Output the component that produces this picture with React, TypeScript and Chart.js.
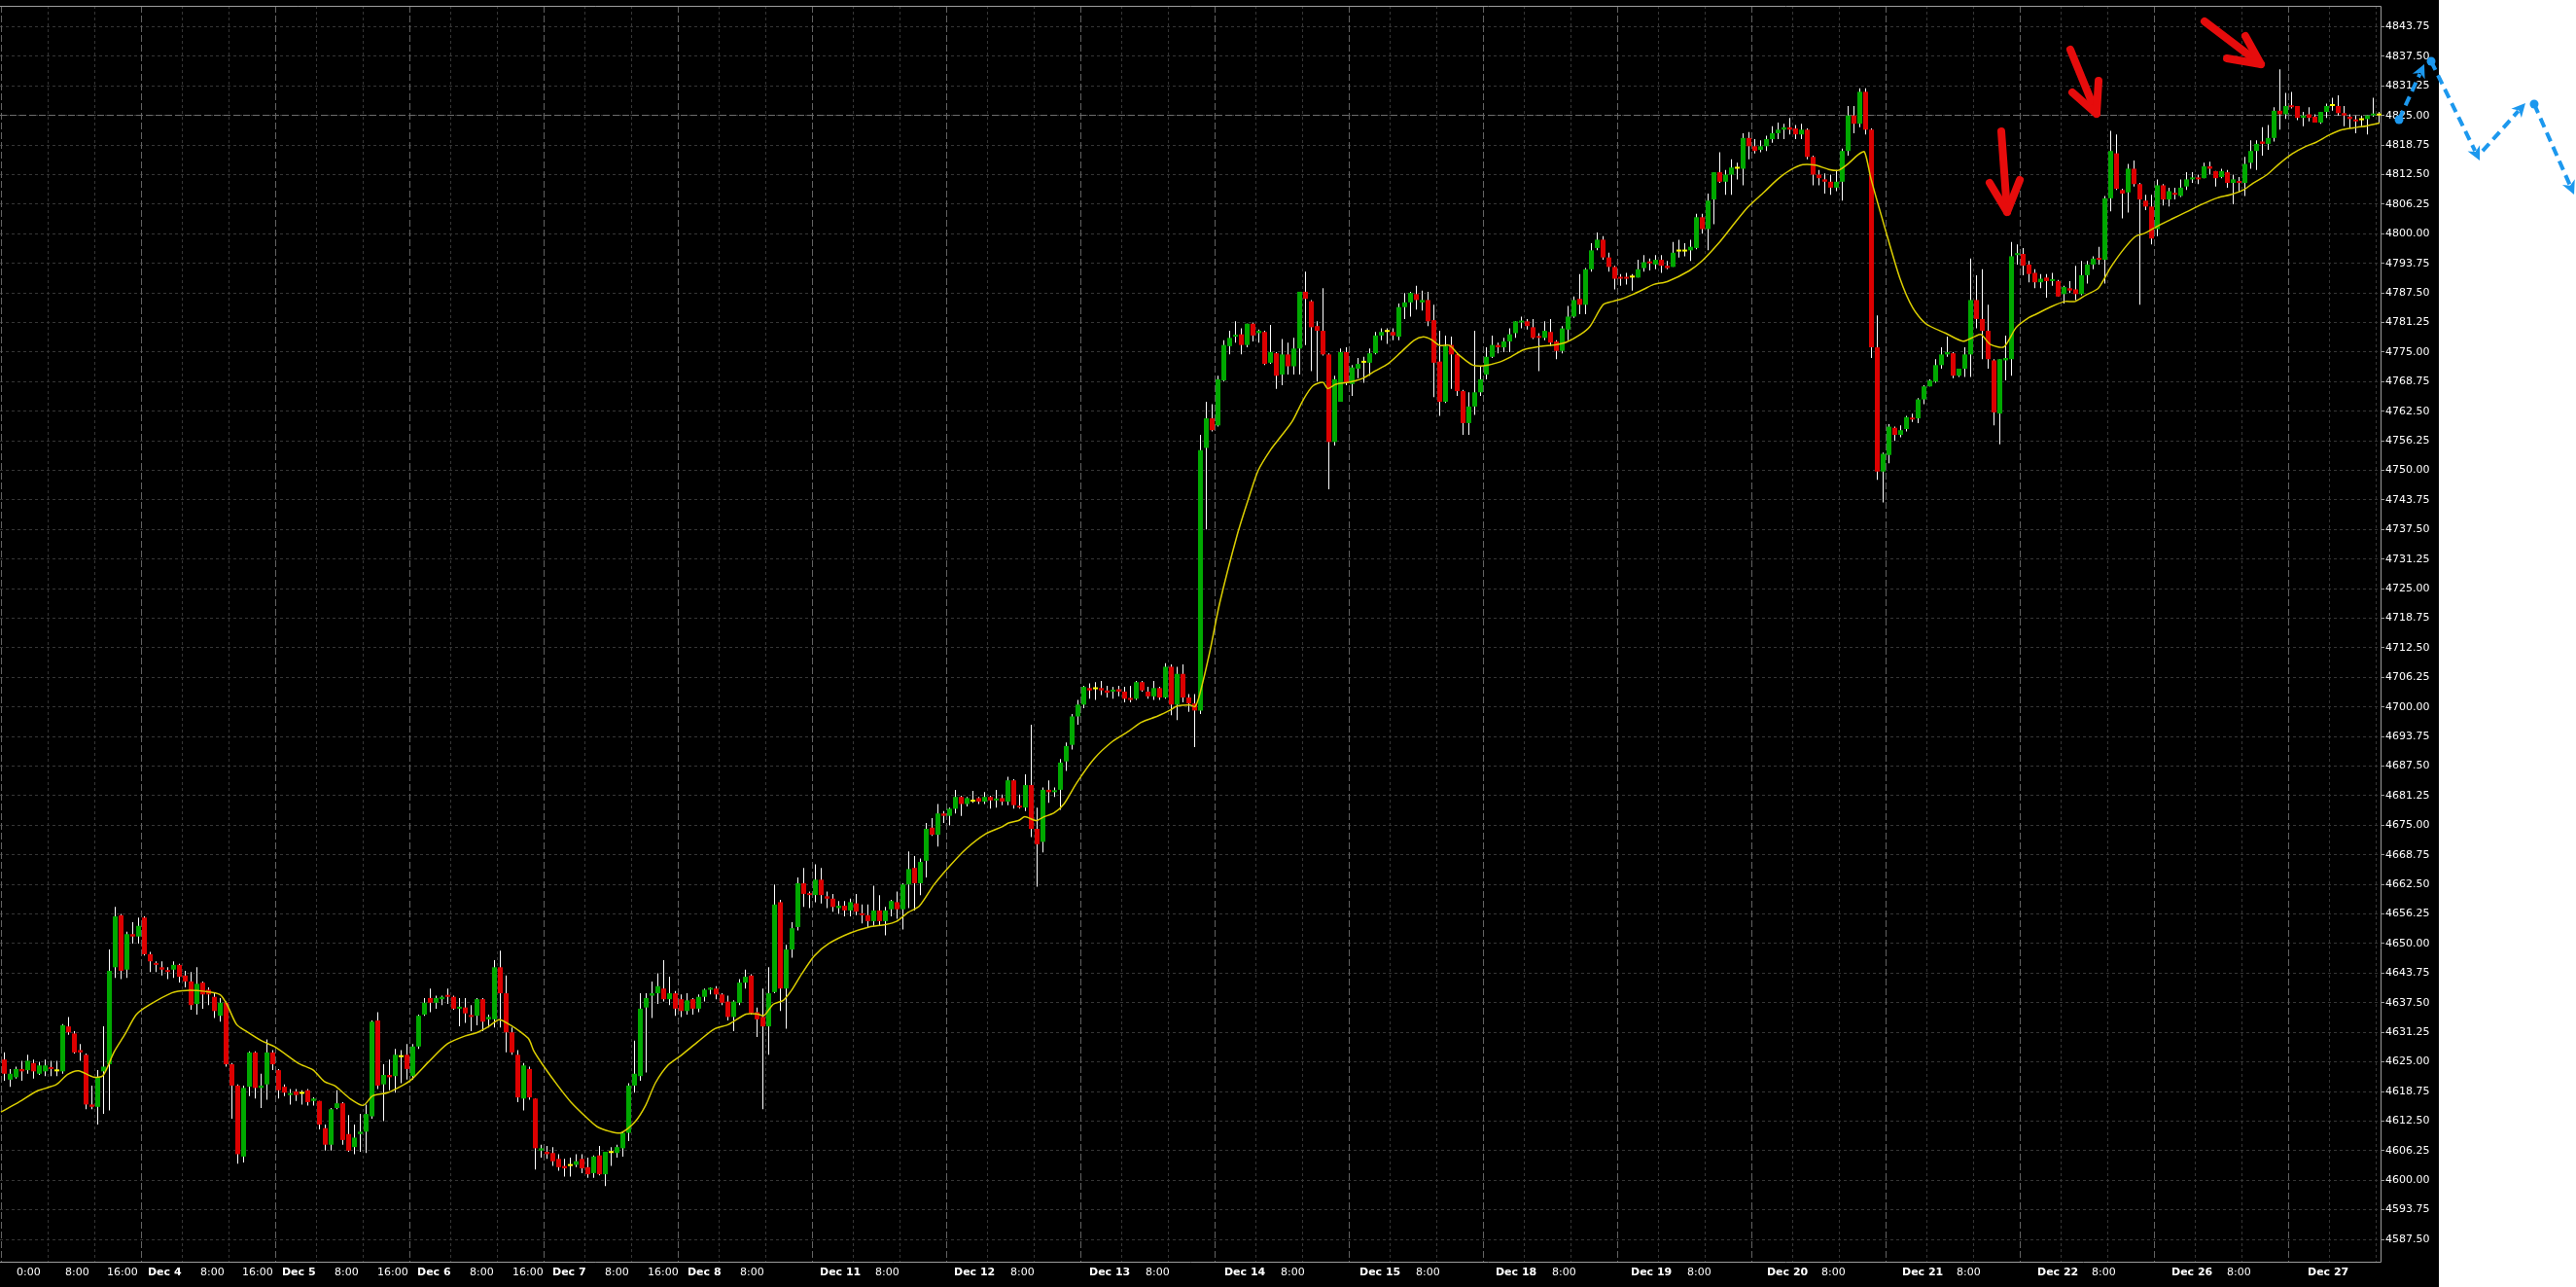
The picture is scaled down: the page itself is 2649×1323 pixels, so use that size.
import React, { useEffect, useRef } from 'react';
import { Chart, registerables } from 'chart.js';

Chart.register(...registerables);

// ---------- data (hourly bars, Dec 1 .. Dec 27) ----------
const opens: number[] = [
  4625.5,4621.25,4621.75,4623.5,4623.25,4624.75,4622.5,4623,4623.75,4623,4623,4632.5,4631,4627.5,4626.5,4616,4615.5,4623,4624.5,4645,4656,4644.5,4652,4651.5,
  4655.5,4647.75,4645.75,4645,4644.25,4644.5,4645.5,4643.25,4642,4637.25,4641.75,4640.25,4638.75,4634.75,4637.5,4624.5,4620,4605,4619.75,4627,4619.5,4620.25,4627,
  4623.25,4619.75,4618,4618.75,4618.25,4619,4616.75,4616.75,4611,4607.5,4615.25,4616.25,4609.75,4607,4609.75,4610.25,4613.5,4633.75,4620.25,4622.25,4622,4626,4626.5,
  4622,4628.25,4635,4638.5,4637.5,4638.25,4639,4638.75,4636.25,4636.5,4634.75,4634.75,4638.25,4634,4634,4645,4639.5,4631.25,4626.5,4617.25,4623.5,4617.25,4606.25,
  4606,4605.75,4604.5,4603,4603,4603.25,4604.5,4602.75,4601.5,4605.25,4601.25,4605.75,4605.75,4606.75,4610,4620,4622,4636.5,4639,4639.5,4640.5,4638.25,4639.5,
  4638.25,4635.75,4638.25,4636.25,4638.75,4640.25,4640.5,4639.25,4637.75,4634.5,4637.5,4641.75,4643.25,4635.5,4634.5,4632.5,4639.75,4658.75,4640.5,4648.75,4653.5,4662.75,4660.5,
  4660.25,4663.5,4660,4659.5,4657.5,4658,4657,4658.5,4656.25,4656,4654.75,4657,4654.75,4657.25,4658.75,4657.25,4662.5,4666,4662.75,4667.5,4674.5,4673,4677.5,
  4677,4678.5,4681,4679.5,4680,4680.75,4680,4681,4680.25,4680.75,4680,4684.5,4679,4678.75,4683.5,4674.25,4671.5,4682.5,4682,4682.5,4688.5,4692,4698,
  4700.5,4704,4703.75,4704,4703.5,4703.25,4703.75,4703.25,4701.75,4701.75,4705.25,4703.25,4702.25,4704,4702,4708.5,4700.5,4707,4702,4700.75,4699.25,4754.75,4761,
  4759.5,4769,4776.25,4778.25,4778.75,4776.5,4781,4779,4779.25,4772.75,4774.75,4770.25,4774.5,4772,4775.75,4787.75,4785.75,4780.5,4779.5,4774.5,4756,4764.5,4775,
  4768.25,4771.5,4772.75,4772.75,4774.75,4778.5,4779.25,4779.25,4778.25,4784.5,4785.5,4787.25,4785.5,4786,4781.75,4773,4764.5,4776.5,4774.5,4766.75,4760,4763.5,4766.5,
  4770.25,4774,4776.5,4776,4777.25,4779,4781.25,4781.5,4780.25,4778.25,4778,4779.25,4777.25,4775.25,4779.75,4782.5,4786.25,4785,4792.5,4797,4798.75,4795,4793,
  4790.75,4790.75,4790.75,4790.75,4792.75,4794,4793.5,4794.5,4793.25,4793,4796.25,4796.25,4796.5,4797,4803.5,4801,4807.25,4813,4811,4812.5,4813.75,4813.75,4820.25,
  4818.5,4817.75,4818.5,4820,4821.25,4822,4822.5,4822.25,4821,4822,4816.25,4812.5,4811.5,4811,4809.75,4811,4817.5,4825,4823.25,4830,4822,4776,4749.75,
  4753.25,4759,4757.5,4758.75,4761,4761,4765,4767.75,4768.75,4772.25,4774.5,4774.75,4770,4771.5,4774.5,4786,4782,4779.5,4773.25,4762,4773.25,4773.5,4795.5,
  4795.75,4793.5,4791.75,4789.75,4790.75,4790,4790,4787.25,4788.5,4788.25,4787.25,4791.25,4793.5,4794.75,4794.5,4807.5,4817,4809.25,4808.75,4813.75,4810.5,4807,4805.75,
  4801,4810.25,4807.25,4808.5,4808,4810,4811.5,4811.75,4811.75,4814.25,4813.25,4812,4813,4810.75,4811,4810.75,4815,4817.5,4819.5,4819,4820.25,4826,4825.25,
  4827,4827,4824.5,4825.25,4824.75,4823.5,4825.75,4827,4827,4825.5,4824.75,4824,4824,4824.25,4825,4825,
];

const highs: number[] = [
  4627,4623.5,4624,4625.25,4626.5,4625.5,4625,4625.5,4625.25,4625.25,4633,4634.5,4631.5,4628.75,4626.75,4620,4623.25,4632.5,4648.75,4657.75,4656.25,4652.5,4654.5,4655.5,
  4655.75,4648.25,4646.25,4646.25,4645,4646.25,4645.75,4644.25,4644,4645,4642,4640.75,4639.5,4638.5,4637.75,4624.75,4620.25,4620,4627.25,4627.25,4622.5,4629.75,4627.5,
  4623.5,4620.25,4619.25,4619.25,4619,4619.25,4617.5,4616.75,4611.75,4615.25,4619,4616.5,4613.75,4611.75,4614,4616,4633.75,4635.5,4624.5,4625.5,4627.75,4627.5,4628.75,
  4628.75,4635,4638.5,4640.5,4639,4639,4640.5,4639,4638.5,4638.5,4637,4638.5,4638.5,4635,4646.5,4648.5,4643.25,4632.25,4627.5,4624.75,4624,4617.25,4607.5,
  4607.25,4607,4605.5,4604.5,4604.75,4605.5,4605.5,4604.75,4605.25,4607.25,4606,4607,4607.5,4610.25,4620.5,4629.5,4639.5,4639.5,4642,4643.75,4646.5,4643,4640,
  4639.25,4639.5,4638.5,4639.25,4640.5,4640.75,4641,4639.5,4639,4638,4642.5,4644.5,4643.5,4636.5,4640.5,4645,4662.5,4659.25,4649.75,4654.5,4664,4666,4661,
  4666.75,4666,4661,4660.5,4659,4659,4659.5,4660.5,4658.25,4658.25,4662.25,4660.25,4657.75,4659.25,4661,4662.75,4669.5,4668.5,4668,4675.5,4676.5,4679.5,4678,
  4678.75,4682.5,4681.25,4681,4682.25,4681,4682,4681.25,4682.5,4681.5,4685.25,4684.75,4681.5,4685.75,4696.25,4678.75,4683,4684.5,4683,4689,4692.5,4698.5,4701.5,
  4704.5,4705,4705.25,4705.5,4704.5,4704.25,4704.5,4704.25,4704.5,4705.5,4705.5,4704.25,4705.5,4704.25,4709.25,4709,4708.5,4709,4702.75,4702.75,4757.5,4764.5,4764,
  4770,4777.5,4779.5,4781.5,4780,4781,4781.25,4779.75,4779.5,4780.75,4775,4777.75,4777,4778,4787.75,4792,4786,4781.5,4788.5,4774.75,4770,4775.75,4776,
  4772.25,4773.75,4774,4775.75,4779.25,4780,4780,4780,4785.25,4787.5,4787.75,4789,4788,4787.75,4785,4779.5,4778.5,4778.25,4774.75,4767,4766.5,4779.5,4772,
  4776,4778.5,4777,4778,4780,4781.5,4782.5,4782,4782,4779,4781.5,4782,4777.5,4780.5,4784.75,4786.75,4791.5,4792.75,4798,4800.25,4799.5,4796,4793.25,
  4791.5,4791.75,4791.5,4794.5,4795.5,4794.75,4795.5,4795.5,4794.25,4798.25,4798.75,4798,4798.75,4804.25,4804.25,4808.5,4813,4817.25,4813.5,4815.75,4815,4821.25,4821.5,
  4820,4819.75,4820.75,4822.75,4823.5,4823.25,4824.5,4823,4823.25,4822.25,4816.5,4813.5,4812.75,4812.5,4813.5,4818,4827,4827,4830.75,4830.75,4822.25,4782.75,4753.75,
  4759.75,4759.25,4759.5,4761.5,4762,4765.25,4768,4769.25,4773.5,4776,4778.25,4775,4771.5,4776,4794.75,4791.25,4792.5,4785,4773.5,4773.5,4778.5,4798.25,4797.75,
  4797,4794.25,4792.5,4791.5,4791.5,4791.75,4790.25,4789,4790,4793.25,4794.25,4794.25,4795.25,4797.25,4808,4821.75,4821,4809.5,4814.75,4815.5,4810.75,4808.25,4808.25,
  4811.5,4810.5,4809.75,4809.75,4811.5,4813,4813,4812.5,4815,4815.25,4813.25,4813.75,4813.5,4812.5,4812,4816.25,4819.75,4819.75,4822.5,4823,4826.75,4834.75,4829.75,
  4830,4827,4825.75,4826.75,4825.25,4825.75,4827.5,4828.75,4829.25,4827,4825.25,4825,4825,4825,4828.75,4825.75,
];

const lows: number[] = [
  4621,4619.75,4621.5,4621,4622.5,4621.5,4622.25,4622,4622,4622,4622.5,4630.75,4626.75,4625.25,4615,4615,4611.75,4614,4614.75,4642.75,4642.5,4642.75,4650,4650,
  4647.5,4644,4644,4643.25,4642.5,4642.75,4641.75,4640.75,4636,4635,4636.25,4637,4634.25,4633.5,4624,4613,4603.5,4603.75,4617.75,4617.25,4615.25,4617,4623.25,
  4617.25,4617.75,4616,4616.75,4616,4615.75,4615.75,4610.75,4606.25,4606.25,4615,4607.5,4606,4605.5,4606,4605.75,4613,4619.25,4612.5,4619,4618.5,4620.5,4621.25,
  4621.25,4627.75,4634.75,4635.5,4636.25,4637,4637.25,4636,4632.5,4633.25,4631.5,4632.75,4631.5,4632.25,4632.25,4632.25,4627,4626.5,4616.5,4614.75,4617,4602.25,4604.75,
  4604.5,4603,4602,4600.75,4600.75,4602.75,4601.5,4600.5,4600.5,4601,4598.75,4603,4604.75,4605,4608.25,4618.5,4621,4622.75,4634.25,4637.25,4637.75,4637,4634.75,
  4634.5,4635,4635,4635.5,4637.75,4639.25,4638.25,4637,4633.75,4631.5,4637,4640.5,4635,4630.25,4615,4626.5,4639.5,4635.75,4632,4647,4652.75,4657.75,4657.5,
  4658.75,4658.5,4657.5,4656.75,4656.25,4655.75,4655.75,4656,4654.25,4653.5,4653.75,4653.75,4651.75,4655.75,4655.25,4653,4657.5,4657,4660.25,4664,4672.75,4670.5,4675.5,
  4675,4677.5,4677,4679,4679.75,4679.5,4679.5,4678.5,4678.75,4679.25,4679.25,4678.5,4678.5,4678,4672.5,4662,4669.25,4679.75,4681,4678.25,4686.5,4691,4696.25,
  4699.75,4701.75,4701.5,4702.5,4702,4701.75,4702.25,4701,4701,4701.5,4703.25,4701.75,4701.5,4701.5,4701.75,4698.25,4697.25,4701,4699,4691.5,4698.5,4737.5,4758.25,
  4759.25,4768.75,4774.5,4777,4774.5,4776,4777.25,4777,4772.25,4772.5,4767.25,4768,4770.25,4770.25,4770.25,4776.5,4771,4768.75,4774.25,4746,4755.25,4764.5,4768,
  4765.75,4769.5,4768.5,4770,4774.5,4777.5,4776.75,4777.5,4777.5,4782,4782.5,4784,4783.75,4780.5,4765.5,4761.5,4764.25,4767.25,4765.75,4757.5,4757.5,4761.75,4765.75,
  4769.25,4773.75,4774.75,4775,4775,4778,4780,4779.75,4777.75,4771,4777.5,4776.25,4773.5,4774.75,4777.5,4782.25,4783,4783,4792,4796.5,4794.5,4792,4788.25,
  4789,4789.25,4788,4790.75,4792,4792.25,4792.5,4791.75,4792.5,4793,4795,4795.25,4794.25,4796.75,4800,4796.5,4802,4810.75,4808.25,4808.25,4811.5,4810.25,4815.75,
  4817,4817.25,4817.5,4819.25,4820,4820,4821,4820,4820,4815.75,4810.25,4810.25,4808.5,4808.25,4809,4807,4816.5,4821.25,4822.5,4821,4773.75,4748,4743.25,
  4751.5,4756.25,4757,4758.25,4760.25,4760,4764,4767.75,4768.5,4771.5,4774,4769.5,4769.75,4769.75,4769.75,4780,4773.5,4771.5,4759.5,4755.5,4769,4770,4793.5,
  4791.25,4789.75,4788.5,4788.5,4786.5,4789,4786.75,4785.25,4787.5,4786,4787,4789.5,4792.5,4793.5,4789.5,4804.75,4809.25,4803.25,4804.5,4810,4785,4805,4797.75,
  4799.5,4806,4805.75,4807.25,4807.75,4809.25,4810.75,4810.5,4811.75,4812.5,4810,4811.75,4809.75,4806.25,4808.75,4808,4813.75,4813.5,4816.5,4817.75,4819.5,4822,4824.25,
  4826.5,4824,4822.75,4823.75,4823.5,4823.25,4824.5,4826,4825,4822.75,4822.25,4821.25,4822.75,4821,4824.75,4823.5,
];

const closes: number[] = [
  4622.5,4622.5,4623.5,4623,4625.25,4623,4624.25,4624.25,4623.5,4623,4632.75,4631.25,4627,4627,4616,4615.5,4621.75,4624,4644.25,4655.75,4644.25,4652,4651.5,4653.75,
  4647.75,4646.25,4645.5,4644.5,4644,4645.5,4643,4642,4637,4641.5,4639.25,4639.25,4635.75,4637.5,4624.5,4620,4605.5,4619.5,4627,4619.5,4620,4627,4624.5,
  4619,4618.5,4618.25,4618,4618.25,4616.5,4617.25,4611.75,4607.5,4615,4616.25,4608.5,4606.25,4609,4610.25,4614,4633.5,4620,4622.25,4621.75,4626.5,4626,4623.5,
  4628.25,4634.75,4637.5,4637.5,4638.5,4638.75,4638.75,4636.25,4636.5,4635.25,4634.5,4638.25,4633.5,4634.5,4645,4639.5,4631.25,4627,4617.5,4624.25,4617.5,4606.75,4606.75,
  4605.5,4604,4602.75,4602.5,4603,4604,4602.5,4601.25,4605,4601.25,4606,4605.75,4607,4610,4620,4622.5,4636.25,4638.5,4639.5,4641,4638.25,4639.5,4636.25,
  4635.75,4638,4636.25,4638.75,4640.25,4640.5,4639.25,4637.5,4634.5,4637.75,4641.75,4643,4635.25,4634,4632.5,4639.5,4658.25,4640.5,4648.75,4653.25,4662.75,4660.5,4660.25,
  4663.5,4660.25,4659.5,4657.75,4658,4657,4658.75,4656.75,4656,4654.75,4657,4654.75,4657,4659,4657.25,4662.5,4665.75,4662.75,4667.25,4674.25,4673,4677.5,4677,
  4678.5,4681,4679.5,4680.75,4680,4680,4681,4680.25,4680.5,4680,4684.5,4679.25,4678.75,4683.5,4674.25,4671,4682.5,4682,4682.25,4688.25,4691.75,4698,4700.5,
  4704.25,4703.5,4703.75,4703.5,4703,4703.5,4703.25,4701.75,4701.5,4705.25,4703.5,4702.25,4704,4702,4708.5,4700.5,4707,4702,4700.75,4699.25,4754.25,4761,4758.5,
  4769.25,4776.5,4778,4778.5,4776.5,4781,4778.5,4779.5,4772.5,4775,4770,4774.5,4772,4775.75,4787.75,4786.25,4780.25,4779.5,4774.5,4756,4769.25,4775,4768.5,
  4771.75,4772.5,4772.75,4774.75,4778.5,4779.25,4779.25,4778.5,4784.5,4785.5,4787.5,4786,4786,4781.5,4772.75,4764.5,4776.25,4774.5,4766.75,4760,4763.5,4766.5,4769.25,
  4774,4776.5,4776,4777.25,4778.75,4781.5,4781.5,4780.5,4778,4778,4779.5,4777,4775.25,4780,4782.5,4786,4785,4792.5,4796.5,4798.75,4795,4793,4790.5,
  4790.5,4790.5,4790.75,4792.5,4794,4793.75,4794.5,4793.25,4792.75,4796,4796.25,4796.25,4797.25,4803.5,4801,4807,4813,4811,4812.5,4814,4813.75,4820.25,4818.5,
  4817.5,4818.5,4820,4821.25,4822,4822.5,4822,4821,4822,4816.25,4812.5,4811.75,4811,4809.75,4811,4817.5,4825,4823.25,4830,4822,4776,4749.75,4753.5,
  4759.25,4757.5,4758.5,4761.25,4760.75,4765,4767.75,4769,4772.25,4774.5,4775,4770,4771.5,4774.5,4786,4782,4779.5,4773.5,4762.25,4773.5,4773.75,4795.25,4795.75,
  4793.25,4791.5,4789.75,4790.5,4790,4790.25,4786.75,4788.75,4788,4787.25,4791.25,4793.5,4794.75,4794.5,4807.5,4817.5,4809.5,4808.5,4813.75,4810.5,4807.25,4805.75,4799,
  4810.25,4807.25,4809,4808.25,4809.75,4811.5,4811.75,4811.5,4814.25,4813.75,4811.75,4813.25,4810.75,4811.5,4810.75,4814.75,4817.5,4819,4819,4820.25,4826,4825.25,4827,
  4826.75,4824.5,4825,4824.5,4823.5,4825.75,4827,4827,4825.5,4825,4824.25,4823.75,4824,4825,4825.25,4825,
];

// moving average: [bar position, value]
const maPoints: [number, number][] = [
  [-0.6,4614.4],[2.5,4616.5],[5.7,4618.9],[8.9,4620.2],[10.8,4622.3],[12.7,4623.1],[15.3,4621.8],[16.9,4622.1],[18.8,4627.1],[20.7,4630.9],
  [22.6,4635.0],[24.8,4637.0],[28.7,4639.6],[31.2,4640.1],[34.4,4639.9],[37,4639.2],[38.2,4637.0],[39.8,4632.9],[41.4,4631.5],[44,4629.5],
  [46.5,4628.1],[50.4,4624.7],[52.9,4623.3],[54.8,4620.9],[56.7,4619.9],[59.3,4617.2],[61.5,4615.8],[63.1,4617.8],[65.7,4618.5],[68.2,4620.0],
  [69.8,4621.3],[72.7,4625.0],[75.9,4628.8],[79,4630.5],[81,4631.2],[82.9,4632.4],[84.8,4633.9],[86.7,4632.8],[88.6,4631.2],[89.9,4629.8],
  [90.7,4627.4],[92.2,4624.5],[94.9,4619.9],[97.1,4616.5],[99.9,4613.1],[101.6,4611.3],[103.8,4610.3],[105.7,4610.0],[108,4612.2],[109.9,4615.8],
  [111.6,4620.6],[113.8,4624.4],[116,4626.4],[118.8,4629.2],[121.6,4631.9],[124.1,4632.9],[127.1,4635.1],[129.1,4635.1],[130.2,4634.8],[131.8,4637.2],
  [133.5,4638.0],[134.9,4640.1],[136.6,4643.5],[138.8,4647.4],[141.3,4650.0],[144.9,4652.2],[148.2,4653.5],[151,4654.0],[152.9,4654.7],[154.9,4656.6],
  [156.8,4657.9],[159.3,4662.4],[162.1,4666.5],[164.9,4670.1],[168.2,4673.2],[171,4674.7],[172.1,4675.5],[173.8,4676.0],[174.9,4676.8],[176.8,4676.0],
  [178.2,4676.8],[179.9,4677.6],[181.6,4679.5],[183.8,4684.0],[186.8,4689.1],[189.9,4692.7],[192.7,4694.9],[194.9,4696.8],[197.7,4698.1],[199.9,4699.4],
  [201,4700.2],[203.2,4700.4],[204.1,4700.1],[204.9,4702.8],[206.6,4711.7],[208.3,4722.0],[211.3,4736.4],[213.2,4743.9],[214.9,4750.0],[217.1,4754.5],
  [218.8,4757.2],[220.7,4760.3],[222.7,4765.1],[224.3,4767.9],[226,4768.6],[226.8,4767.3],[228.2,4768.2],[230.4,4768.6],[232.7,4769.4],[234.9,4771.0],
  [237.1,4772.5],[239.3,4774.9],[241.6,4777.5],[243.2,4778.2],[244.6,4777.6],[246,4776.4],[247.7,4776.4],[249.3,4774.4],[251.6,4772.3],[253.5,4772.1],
  [256,4772.8],[258.2,4774.0],[260.4,4775.5],[263.2,4776.2],[266,4776.6],[267.7,4777.1],[270.1,4778.7],[271.8,4780.5],[274,4785.0],[275.6,4785.7],
  [277.1,4786.2],[279.1,4787.2],[281,4788.3],[282.7,4789.3],[285,4789.9],[288.8,4792.2],[291,4794.3],[293.8,4798.0],[296,4801.4],[298.8,4805.6],
  [301.6,4808.8],[303.8,4811.4],[306,4813.4],[308.2,4814.6],[310.4,4814.5],[312.7,4813.6],[314.3,4813.4],[316,4814.8],[317.7,4816.7],[318.8,4817.3],
  [319.9,4811.7],[322.1,4802.1],[324.9,4790.5],[327.1,4784.3],[329.3,4781.0],[332.7,4779.0],[335.7,4777.3],[337.7,4778.3],[338.8,4778.7],[340.4,4776.6],
  [342.7,4776.1],[344.8,4780.2],[347,4782.3],[348.2,4783.0],[351,4784.7],[353.2,4785.7],[354.9,4785.7],[356.8,4787.1],[358.8,4788.4],[359.9,4790.5],
  [361,4792.9],[363.2,4796.7],[365.2,4799.4],[366.8,4800.1],[369.3,4801.8],[371.6,4803.2],[373.8,4804.5],[376.6,4806.2],[379.3,4807.6],[381.6,4808.3],
  [383.8,4809.3],[385.4,4810.7],[387.7,4812.4],[389.9,4814.8],[392.1,4816.9],[394.3,4818.4],[396.3,4819.4],[398.5,4820.9],[400.7,4822.0],[403.2,4822.5],
  [404.9,4822.8],[407.1,4823.4],
];

// time axis labels and where they sit (bar units)
const xTickLabels: string[] = [
  '0:00','8:00','16:00','Dec 4','8:00','16:00','Dec 5','8:00','16:00','Dec 6','8:00','16:00','Dec 7','8:00','16:00','Dec 8','8:00',
  'Dec 11','8:00','Dec 12','8:00','Dec 13','8:00','Dec 14','8:00','Dec 15','8:00','Dec 18','8:00','Dec 19','8:00','Dec 20','8:00',
  'Dec 21','8:00','Dec 22','8:00','Dec 26','8:00','Dec 27',
];
const xTickBars: number[] = [
  2.08,10.42,17.58,24.58,33.58,40.75,47.58,56.58,63.92,70.75,79.75,87.08,93.92,102.92,110.25,117.08,126.08,
  139.75,149.25,162.75,172.42,185.92,195.58,209.08,218.75,232.25,241.92,255.58,265.25,278.75,288.42,302.08,311.42,
  325.25,334.58,348.42,357.75,371.42,380.92,394.75,
];
// first bar of each trading day, and the 8:00 / 16:00 bars
const daySeparatorBars: number[] = [0,24,47,70,93,116,139,162,185,208,231,254,277,300,323,346,369,392];
const hourGridBars: number[] = [8,16,31,39,54,62,77,85,100,108,123,131,146,154,169,177,192,200,215,223,238,246,261,269,284,292,307,315,330,338,353,361,376,384,399,407];

// hand-drawn annotations, in (bar, price) coordinates
const redArrows: { tail: [number, number]; tip: [number, number]; wings: [number, number][] }[] = [
  { tail: [342.25, 4821.66], tip: [343.25, 4804.6], wings: [[340.25, 4810.76], [345.42, 4811.38]] },
  { tail: [354.08, 4838.92], tip: [358.58, 4825.36], wings: [[354.42, 4829.88], [358.92, 4832.35]] },
  { tail: [377.08, 4844.88], tip: [386.75, 4835.84], wings: [[380.92, 4837.07], [384.08, 4841.8]] },
];
const blueSegments: { from: [number, number]; to: [number, number]; dot: boolean }[] = [
  { from: [410.42, 4824.12], to: [414.75, 4835.84], dot: true },
  { from: [415.92, 4836.45], to: [424.25, 4815.49], dot: true },
  { from: [424.75, 4817.5], to: [432.08, 4827.62], dot: false },
  { from: [433.58, 4827.41], to: [440.42, 4808.3], dot: true },
];

// ---------- styling ----------
const W = 2649;
const H = 1323;
const PANEL_RIGHT = 2508;
const FONT = '"DejaVu Sans", Tahoma, Verdana, sans-serif';
const GREEN = '#00a800';
const RED = '#dc0000';
const DOJI = '#ffff00';
const MA_COLOR = '#dccf00';
const GRID = '#363636';
const SEP = '#626262';
const BORDER = '#9c9c9c';

export default function App() {
  const ref = useRef<HTMLCanvasElement>(null);

  useEffect(() => {
    document.body.style.margin = '0';
    document.body.style.background = '#ffffff';
    const canvas = ref.current;
    if (!canvas) return;

    const bodyColors = opens.map((o, i) => (closes[i] > o ? GREEN : closes[i] < o ? RED : DOJI));

    const chromePlugin = {
      id: 'mtChrome',
      beforeDraw(chart: any) {
        const { ctx } = chart;
        ctx.save();
        ctx.fillStyle = '#ffffff';
        ctx.fillRect(0, 0, W, H);
        ctx.fillStyle = '#000000';
        ctx.fillRect(0, 0, PANEL_RIGHT, H);
        ctx.restore();
      },
      beforeDatasetsDraw(chart: any) {
        const { ctx, chartArea: a } = chart;
        const xs = chart.scales.x;
        const ys = chart.scales.y;
        const hline = (py: number) => { ctx.beginPath(); ctx.moveTo(a.left, py); ctx.lineTo(a.right, py); ctx.stroke(); };
        const vline = (px: number) => { ctx.beginPath(); ctx.moveTo(px, a.top); ctx.lineTo(px, a.bottom); ctx.stroke(); };
        ctx.save();
        ctx.lineWidth = 1;
        ctx.strokeStyle = GRID;
        ctx.setLineDash([3, 3]);
        ys.ticks.forEach((t: any) => hline(Math.floor(ys.getPixelForValue(t.value)) + 0.5));
        hourGridBars.forEach((b) => vline(Math.floor(xs.getPixelForValue(b - 0.5)) + 0.5));
        ctx.strokeStyle = SEP;
        ctx.setLineDash([7, 3]);
        daySeparatorBars.forEach((b) => vline(Math.floor(xs.getPixelForValue(b - 0.5)) + 0.5));
        // bid line at last close
        ctx.strokeStyle = '#6c6c6c';
        hline(Math.floor(ys.getPixelForValue(closes[closes.length - 1])) + 0.5);
        // frame
        ctx.setLineDash([]);
        ctx.strokeStyle = BORDER;
        ctx.beginPath();
        ctx.moveTo(a.left, a.top + 0.5);
        ctx.lineTo(a.right - 0.5, a.top + 0.5);
        ctx.lineTo(a.right - 0.5, a.bottom - 0.5);
        ctx.lineTo(a.left, a.bottom - 0.5);
        ctx.stroke();
        ys.ticks.forEach((t: any) => {
          const py = Math.floor(ys.getPixelForValue(t.value)) + 0.5;
          ctx.beginPath();
          ctx.moveTo(a.right, py);
          ctx.lineTo(a.right + 3, py);
          ctx.stroke();
        });
        ctx.restore();
      },
      afterDraw(chart: any) {
        const { ctx } = chart;
        const xs = chart.scales.x;
        const ys = chart.scales.y;
        const P = (p: [number, number]) => [xs.getPixelForValue(p[0]), ys.getPixelForValue(p[1])];
        ctx.save();
        // red arrows
        ctx.strokeStyle = '#e60c0c';
        ctx.lineWidth = 8;
        ctx.lineCap = 'round';
        ctx.lineJoin = 'round';
        redArrows.forEach((ar) => {
          const [tx, ty] = P(ar.tail);
          const [px, py] = P(ar.tip);
          const [w1x, w1y] = P(ar.wings[0]);
          const [w2x, w2y] = P(ar.wings[1]);
          ctx.beginPath();
          ctx.moveTo(tx, ty);
          ctx.lineTo(px, py);
          ctx.stroke();
          ctx.beginPath();
          ctx.moveTo(w1x, w1y);
          ctx.lineTo(px, py);
          ctx.lineTo(w2x, w2y);
          ctx.stroke();
        });
        // blue dashed zig-zag
        const BLUE = '#1c98ee';
        blueSegments.forEach((s) => {
          const [x1, y1] = P(s.from);
          const [x2, y2] = P(s.to);
          const dx = x2 - x1;
          const dy = y2 - y1;
          const len = Math.hypot(dx, dy);
          const ux = dx / len;
          const uy = dy / len;
          const head = 14;
          ctx.strokeStyle = BLUE;
          ctx.lineWidth = 4;
          ctx.lineCap = 'butt';
          ctx.setLineDash([10, 6]);
          ctx.beginPath();
          ctx.moveTo(x1, y1);
          ctx.lineTo(x2 - ux * (head - 3), y2 - uy * (head - 3));
          ctx.stroke();
          ctx.setLineDash([]);
          ctx.fillStyle = BLUE;
          ctx.beginPath();
          ctx.moveTo(x2, y2);
          ctx.lineTo(x2 - ux * head - uy * 7, y2 - uy * head + ux * 7);
          ctx.lineTo(x2 - ux * (head - 4), y2 - uy * (head - 4));
          ctx.lineTo(x2 - ux * head + uy * 7, y2 - uy * head - ux * 7);
          ctx.closePath();
          ctx.fill();
          if (s.dot) {
            ctx.beginPath();
            ctx.arc(x1, y1, 4.5, 0, Math.PI * 2);
            ctx.fill();
          }
        });
        ctx.restore();
      },
    };

    const chart = new Chart(canvas, {
      type: 'bar',
      data: {
        datasets: [
          {
            type: 'line',
            label: 'MA',
            data: maPoints.map(([x, y]) => ({ x, y })),
            borderColor: MA_COLOR,
            borderWidth: 1.5,
            pointRadius: 0,
            tension: 0.25,
            order: 0,
          } as any,
          {
            type: 'bar',
            label: 'body',
            data: opens.map((o, i) => ({ x: i, y: [o, closes[i]] })),
            backgroundColor: bodyColors,
            barThickness: 5,
            minBarLength: 2,
            grouped: false,
            borderWidth: 0,
            inflateAmount: 0,
            order: 1,
          } as any,
          {
            type: 'bar',
            label: 'wick',
            data: lows.map((l, i) => ({ x: i, y: [l, highs[i]] })),
            backgroundColor: '#ffffff',
            barThickness: 1,
            grouped: false,
            borderWidth: 0,
            inflateAmount: 0,
            order: 2,
          } as any,
        ],
      },
      options: {
        animation: false,
        responsive: false,
        devicePixelRatio: 1,
        events: [],
        layout: { padding: { left: 0, top: 6, right: W - PANEL_RIGHT, bottom: 0 } },
        plugins: { legend: { display: false }, tooltip: { enabled: false } },
        scales: {
          x: {
            type: 'linear',
            min: -0.75,
            max: 407.4167,
            offset: false,
            grid: { display: false, drawTicks: false },
            border: { display: false },
            afterBuildTicks: (s: any) => {
              s.ticks = xTickBars.map((v) => ({ value: v }));
            },
            afterFit: (s: any) => {
              s.height = 25;
              s.paddingLeft = 0;
              s.paddingRight = 0;
            },
            ticks: {
              autoSkip: false,
              maxRotation: 0,
              minRotation: 0,
              align: 'start',
              padding: 4,
              color: '#ffffff',
              font: (c: any) => ({
                family: FONT,
                size: 11,
                weight: (xTickLabels[c.index] || '').startsWith('Dec') ? 'bold' : 'normal',
              }),
              callback: (_v: any, i: number) => xTickLabels[i],
            },
          },
          y: {
            type: 'linear',
            position: 'right',
            min: 4582.57,
            max: 4848.17,
            grid: { display: false, drawTicks: false },
            border: { display: false },
            afterFit: (s: any) => {
              s.width = PANEL_RIGHT - 2449;
              s.paddingTop = 0;
              s.paddingBottom = 0;
            },
            afterBuildTicks: (s: any) => {
              s.ticks = s.ticks.filter((t: any) => t.value > s.min + 0.01 && t.value < s.max - 0.01);
            },
            ticks: {
              stepSize: 6.25,
              autoSkip: false,
              padding: 4,
              color: '#ffffff',
              font: { family: FONT, size: 11 },
              callback: (v: any) => Number(v).toFixed(2),
            },
          },
        },
      } as any,
      plugins: [chromePlugin],
    });

    return () => chart.destroy();
  }, []);

  return (
    <div style={{ width: W, height: H, overflow: 'hidden' }}>
      <canvas ref={ref} width={W} height={H} style={{ display: 'block', width: W, height: H }} />
    </div>
  );
}
